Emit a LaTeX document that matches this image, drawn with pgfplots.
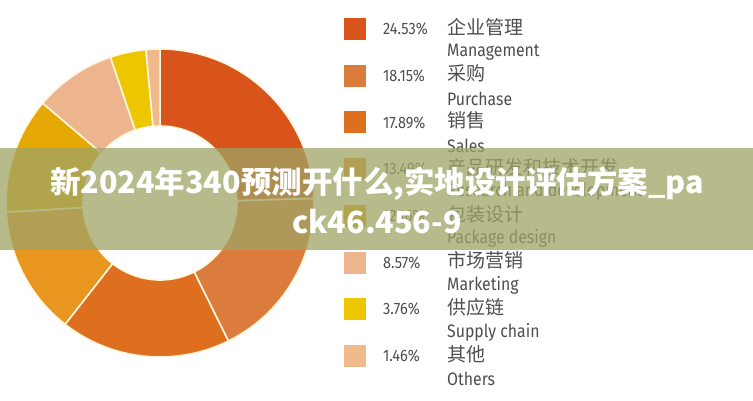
\documentclass[border=0pt]{standalone}
\usepackage{pgfplots}
\usepackage{pgfplotstable}
\pgfplotsset{compat=1.18}
\usepackage{fontspec}
\setmainfont{Fira Sans}
\newfontfamily\zh{Noto Sans CJK SC}
\newfontfamily\lat[FakeStretch=0.88]{Fira Sans}

\definecolor{slice0}{RGB}{217,84,26}
\definecolor{slice1}{RGB}{220,124,60}
\definecolor{slice2}{RGB}{221,111,30}
\definecolor{slice3}{RGB}{232,150,32}
\definecolor{slice4}{RGB}{229,168,4}
\definecolor{slice5}{RGB}{237,181,142}
\definecolor{slice6}{RGB}{237,198,0}
\definecolor{slice7}{RGB}{240,186,140}
\definecolor{cream}{RGB}{255,246,220}
\definecolor{txt}{RGB}{78,78,78}
\definecolor{band}{RGB}{159,164,102}

\pgfplotstableread[col sep=comma]{
share,zh,en
24.53,企业管理,Management
18.15,采购,Purchase
17.89,销售,Sales
13.49,产品研发和技术开发,Research and development
12.16,包装设计,Package design
8.57,市场营销,Marketing
3.76,供应链,Supply chain
1.46,其他,Others
}\datatable

\begin{document}
\begin{tikzpicture}
\path[use as bounding box] (0,0) rectangle (753pt,400pt);
\begin{axis}[
  at={(0,0)}, anchor=south west,
  width=753pt, height=400pt, scale only axis,
  xmin=0, xmax=753, ymin=0, ymax=400, y dir=reverse,
  hide axis, clip=false,
]
\addplot[draw=none] coordinates {(0,0) (753,400)};
\pgfplotsextra{
  \pgfplotstablegetrowsof{\datatable}
  \pgfmathtruncatemacro\N{\pgfplotsretval-1}
  \xdef\cum{0}
  \foreach \i in {0,...,\N} {
    \pgfplotstablegetelem{\i}{share}\of\datatable
    \let\v\pgfplotsretval
    \pgfmathsetmacro\aone{90-3.6*\cum}
    \pgfmathsetmacro\atwo{90-3.6*(\cum+\v)}
    \fill[slice\i, draw=cream, line width=1.6pt]
      ([shift={(\aone:154pt)}]axis cs:160,203)
      arc[start angle=\aone, end angle=\atwo, radius=154pt]
      -- ([shift={(\atwo:77pt)}]axis cs:160,203)
      arc[start angle=\atwo, end angle=\aone, radius=77pt] -- cycle;
    \pgfmathsetmacro\c{\cum+\v}
    \xdef\cum{\c}
    % legend
    \pgfmathsetmacro\ry{29+46.7*\i}
    \fill[slice\i] ([shift={(-11pt,-11pt)}]axis cs:355,\ry) rectangle ([shift={(11pt,11pt)}]axis cs:355,\ry);
    \node[anchor=west, inner sep=0pt, text=txt, font=\lat\fontsize{16.5}{18}\selectfont] at (axis cs:383,\ry) {\v\%};
    \pgfplotstablegetelem{\i}{zh}\of\datatable
    \node[anchor=west, inner sep=0pt, text=txt, font=\zh\fontsize{19}{20}\selectfont] at (axis cs:447,\ry-2) {\pgfplotsretval};
    \pgfplotstablegetelem{\i}{en}\of\datatable
    \node[anchor=west, inner sep=0pt, text=txt, font=\lat\fontsize{18}{20}\selectfont] at (axis cs:447,\ry+23) {\pgfplotsretval};
  }
  \fill[band, opacity=0.75] (axis cs:0,148) rectangle (axis cs:753,250);
  \node[text=white, inner sep=0pt, font=\zh\bfseries\fontsize{30.5}{32}\selectfont] at (axis cs:377,184) {新2024年340预测开什么,实地设计评估方案\_pa};
  \node[text=white, inner sep=0pt, font=\zh\bfseries\fontsize{30.5}{32}\selectfont] at (axis cs:377,222) {ck46.456-9};
}
\end{axis}
\end{tikzpicture}
\end{document}
